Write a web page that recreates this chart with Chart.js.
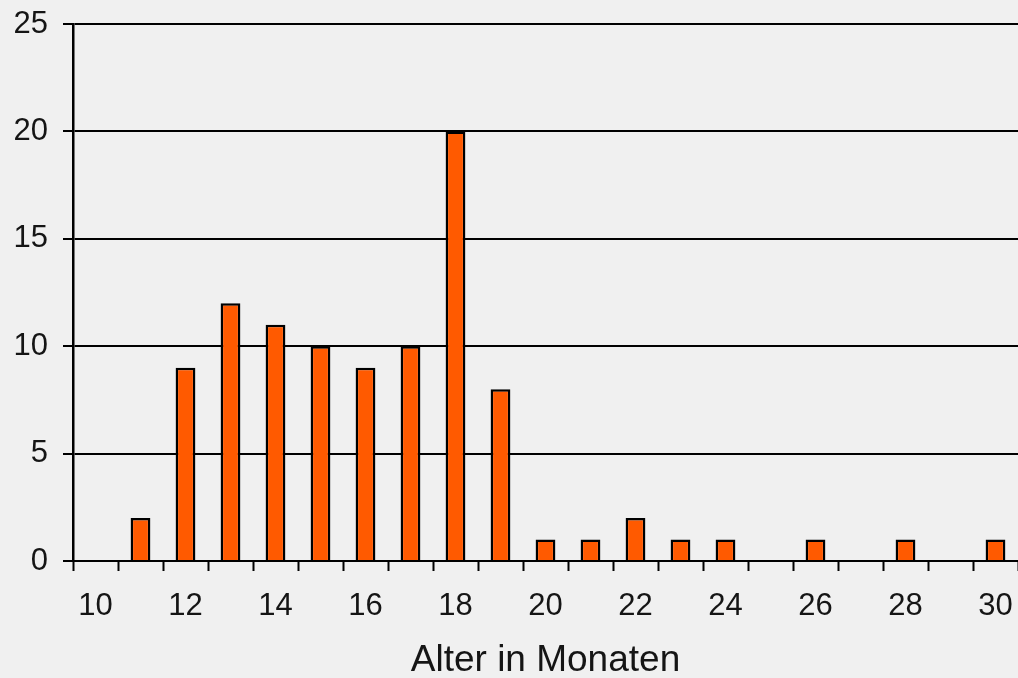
<!DOCTYPE html>
<html>
<head>
<meta charset="utf-8">
<script src="https://cdn.jsdelivr.net/npm/chart.js@4"></script>
<style>
    html, body { margin: 0; padding: 0; background: #f0f0f0; }
    #wrap { width: 1018px; height: 678px; }
</style>
</head>
<body>
<div id="wrap"><canvas id="ageChart" width="1018" height="678"></canvas></div>
<script>
// Data: Alter in Monaten (10..30) and counts
const ages = ['10', '11', '12', '13', '14', '15', '16', '17', '18', '19', '20',
              '21', '22', '23', '24', '25', '26', '27', '28', '29', '30'];
const counts = [0, 2, 9, 12, 11, 10, 9, 10, 20, 8, 1, 1, 2, 1, 1, 0, 1, 0, 1, 0, 1];
const yTicks = [0, 5, 10, 15, 20, 25];

const fontFamily = '"Liberation Sans", Arial, Helvetica, sans-serif';

const ctx = document.getElementById('ageChart');
new Chart(ctx, {
    type: 'bar',
    data: {
        labels: ages,
        datasets: [{
            label: 'Anzahl',
            data: counts,
            backgroundColor: '#ff5a00',
            borderColor: '#000',
            borderWidth: 2.5,
            borderSkipped: 'start',
            categoryPercentage: 1,
            barPercentage: 0.44
        }]
    },
    options: {
        responsive: false,
        animation: false,
        layout: {
            padding: { top: 24, right: 0, left: 0, bottom: 0 }
        },
        plugins: {
            legend: { display: false },
            tooltip: { enabled: false }
        },
        scales: {
            x: {
                offset: true,
                grid: {
                    offset: true,
                    drawOnChartArea: false,
                    drawTicks: true,
                    tickLength: 10,
                    tickColor: '#000',
                    tickWidth: 2
                },
                border: { display: true, color: '#000', width: 2 },
                ticks: {
                    autoSkip: false,
                    maxRotation: 0,
                    color: '#151515',
                    padding: 17,
                    font: { family: fontFamily, size: 31 },
                    callback: function(value, index) {
                        return index % 2 === 0 ? ages[index] : '';
                    }
                },
                title: {
                    display: true,
                    text: 'Alter in Monaten',
                    color: '#151515',
                    font: { family: fontFamily, size: 37, lineHeight: 0.92 },
                    padding: { top: 0, bottom: 0 }
                },
                afterFit: function(scale) {
                    scale.height = 117;
                    scale.paddingLeft = 0;
                    scale.paddingRight = 0;
                }
            },
            y: {
                min: 0,
                max: 25,
                afterBuildTicks: function(scale) {
                    scale.ticks = yTicks.map(v => ({ value: v }));
                },
                grid: {
                    color: '#000',
                    lineWidth: 2,
                    drawTicks: true,
                    tickLength: 10,
                    tickColor: '#000'
                },
                border: { display: true, color: '#000', width: 2.5 },
                ticks: {
                    color: '#151515',
                    padding: 15,
                    font: { family: fontFamily, size: 31 }
                },
                afterFit: function(scale) {
                    scale.width = 73;
                    scale.paddingTop = 0;
                    scale.paddingBottom = 0;
                }
            }
        }
    }
});
</script>
</body>
</html>
